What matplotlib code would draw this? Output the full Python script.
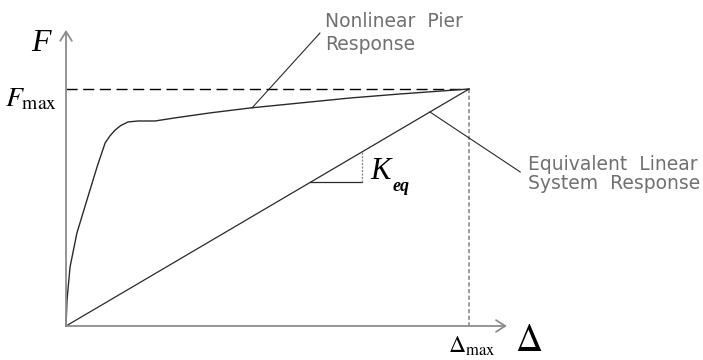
import matplotlib
matplotlib.use('Agg')
import matplotlib.pyplot as plt

plt.rcParams['mathtext.fontset'] = 'stix'

# pier force-displacement response, normalised so that (delta_max, F_max) = (1, 1)
pier_disp = [0.0, 0.0025, 0.010, 0.027, 0.052, 0.077, 0.097, 0.109, 0.122,
             0.136, 0.154, 0.179, 0.221, 0.270, 0.357, 0.457, 0.581, 0.705,
             0.829, 1.0]
pier_force = [0.0, 0.110, 0.249, 0.392, 0.532, 0.671, 0.772, 0.802, 0.827,
              0.846, 0.861, 0.865, 0.865, 0.878, 0.899, 0.920, 0.941, 0.962,
              0.979, 1.0]

delta_max = 1.0
f_max = 1.0
# secant stiffness of the equivalent linear system
k_eq = f_max / delta_max

ink = '#2a2a2a'
axis_grey = '#8c8c8c'
label_grey = '#707070'

fig = plt.figure(figsize=(7.03, 3.6), dpi=100)
ax = fig.add_axes([0, 0, 1, 1])
ax.set_xlim(-0.1638, 1.5806)
ax.set_ylim(-0.1435, 1.3755)
ax.axis('off')

# axes with open arrow heads
arrow = dict(arrowstyle='->,head_length=0.55,head_width=0.35', color=axis_grey,
             lw=1.3, mutation_scale=12, shrinkA=0, shrinkB=0)
ax.annotate('', xy=(0, 1.249), xytext=(0, 0), arrowprops=arrow)
ax.annotate('', xy=(1.094, 0), xytext=(0, 0), arrowprops=arrow)

# F_max and delta_max guides
ax.plot([0, delta_max], [f_max, f_max], color='black', lw=1.0, dashes=(8, 4))
ax.plot([delta_max, delta_max], [f_max, 0], color=axis_grey, lw=1.2, dashes=(2.5, 1.5))

# nonlinear pier and equivalent linear responses
ax.plot(pier_disp, pier_force, color=ink, lw=1.0)
ax.plot([0, delta_max], [0, k_eq * delta_max], color=ink, lw=0.9)

# slope triangle for K_eq
x0, x1 = 0.6055, 0.7345
ax.plot([x0, x1], [k_eq * x0, k_eq * x0], color=ink, lw=0.9)
ax.plot([x1, x1], [k_eq * x0, k_eq * x1], color=axis_grey, lw=1.0, dashes=(1.5, 1))

# leader lines
ax.plot([0.4615, 0.630], [0.920, 1.236], color=ink, lw=0.8)
ax.plot([0.903, 1.127], [0.903, 0.650], color=ink, lw=0.8)

note = dict(color=label_grey, fontsize=13.5, ha='left', va='baseline')
ax.text(0.643, 1.262, 'Nonlinear  Pier', **note)
ax.text(0.643, 1.165, 'Response', **note)
ax.text(1.146, 0.658, 'Equivalent  Linear', **note)
ax.text(1.146, 0.578, 'System  Response', **note)

# symbols
serif = 'Liberation Serif'
ax.text(-0.062, 1.19, 'F', family=serif, style='italic', fontsize=23,
        ha='center', va='center')
ax.text(-0.022, 0.96, r'$F_{\mathrm{max}}$', fontsize=20, ha='right', va='center')
ax.text(0.755, 0.62, 'K', family=serif, style='italic', fontsize=22,
        ha='left', va='baseline')
ax.text(0.81, 0.57, 'eq', family=serif, style='italic', weight='bold', fontsize=13,
        ha='left', va='baseline')
ax.text(1.007, -0.085, r'$\Delta_{\mathrm{max}}$', fontsize=17, ha='center', va='center')
ax.text(1.149, -0.063, r'$\Delta$', fontsize=27, ha='center', va='center')

fig.savefig('out.png', dpi=100, facecolor='white')
